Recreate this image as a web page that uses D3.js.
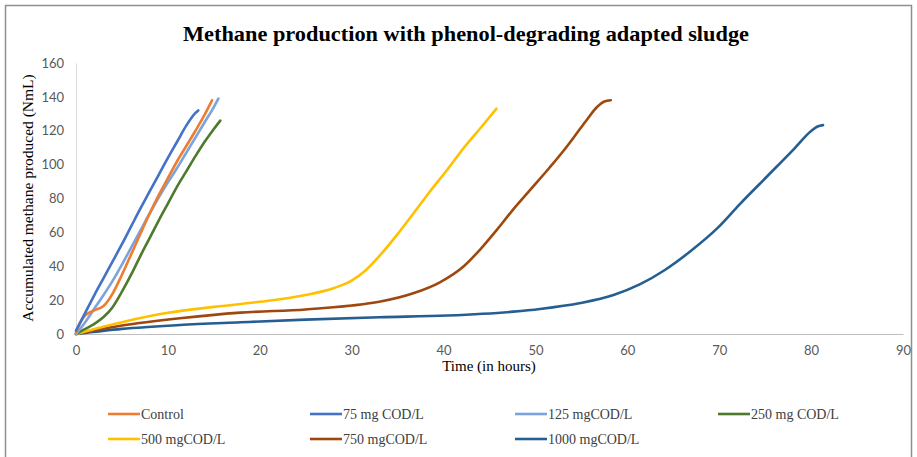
<!DOCTYPE html>
<html>
<head>
<meta charset="utf-8">
<script src="https://cdn.jsdelivr.net/npm/d3@7"></script>
<style>
  html, body { margin: 0; padding: 0; background: #fff; }
  svg { display: block; }
</style>
</head>
<body>
<svg id="chart" width="917" height="457"></svg>
<script>
// Accumulated methane (NmL) against time (h), one [hours, NmL] list per dose
const control = [[0,1],[0.5,7],[1,11],[2,14],[3,16.5],[4,24],[5,35],[6,47],[7,59],[8,71],[9,82],[10,92],[11,102],[12,111],[13,120],[14,129.5],[14.8,138]];
const cod75   = [[0,2],[1,12.5],[2,23],[3,33],[4,43],[5,53],[6,63.5],[7,74],[8,84],[9,94],[10,104],[11,113.5],[12,123],[13,130.5],[13.3,132]];
const cod125  = [[0,0],[1,7],[2,15],[3,23],[4,31.5],[5,41],[6,51],[7,61],[8,71],[9,80.5],[10,89.5],[11,98],[12,107],[13,116],[14,125],[15,134],[15.5,139]];
const cod250  = [[0,0],[1,3],[2,6],[3,10],[4,16],[5,25],[6,35],[7,46],[8,56.5],[9,67],[10,77],[11,87],[12,96],[13,105],[14,113.5],[15,121],[15.7,126]];
const cod500  = [[0,0],[2,3],[5,7],[10,12.5],[15,16],[20,19],[25,23],[28,27],[30,31.5],[31.5,37.5],[33,46],[35,59],[36.7,71],[38.5,84],[40.4,97],[42,108.5],[44,121.5],[45.75,133]];
const cod750  = [[0,0],[5,5],[11.3,9.3],[17.9,12.6],[25,14.5],[30,16.8],[33,19],[36.7,24],[39.6,30.5],[42.2,40],[44,50],[45.8,61.5],[47.5,73],[49.5,85.5],[51.5,98],[53.1,108.5],[54.5,118.5],[55.6,126.5],[56.7,134],[57.5,137.3],[58.2,138]];
const cod1000 = [[0,0],[5,3],[11.3,5.3],[17.9,6.9],[25,8.5],[33,9.9],[40.4,10.9],[47.6,13.2],[50.5,14.8],[54.9,18.3],[58.5,23],[61.4,29.4],[64,37.5],[66.9,49],[69.8,62.5],[72.3,77],[75.2,93],[78.1,109],[80,119.8],[80.7,122.5],[81.3,123.3]];

const seriesNames  = ["Control", "75 mg COD/L", "125 mgCOD/L", "250 mg COD/L", "500 mgCOD/L", "750 mgCOD/L", "1000 mgCOD/L"];
const seriesData   = [control, cod75, cod125, cod250, cod500, cod750, cod1000];
const seriesColors = ["#ED7D31", "#4472C4", "#7BA3DE", "#4E7A2C", "#FFC000", "#9E480E", "#255E91"];

const xTicks = [0, 10, 20, 30, 40, 50, 60, 70, 80, 90];
const yTicks = [0, 20, 40, 60, 80, 100, 120, 140, 160];

const svg = d3.select("#chart");
const plot = { left: 76, right: 903, top: 63, bottom: 334 };

const x = d3.scaleLinear().domain([0, 90]).range([plot.left, plot.right]);
const y = d3.scaleLinear().domain([0, 160]).range([plot.bottom, plot.top]);

const serif = "'Liberation Serif', 'Times New Roman', serif";

// outer frame
svg.append("rect")
  .attr("x", 5.5).attr("y", 5.5)
  .attr("width", 906).attr("height", 470)
  .attr("fill", "none").attr("stroke", "#8f8f8f").attr("stroke-width", 1.5);

// title
svg.append("text")
  .attr("x", 466).attr("y", 41)
  .attr("text-anchor", "middle")
  .attr("font-family", serif)
  .attr("font-weight", "bold")
  .attr("font-size", 22)
  .attr("textLength", 566)
  .attr("lengthAdjust", "spacingAndGlyphs")
  .attr("fill", "#000")
  .text("Methane production with phenol-degrading adapted sludge");

// axes
const tickFont = "Lato, 'Open Sans', sans-serif";
const xAxis = d3.axisBottom(x).tickValues(xTicks).tickSize(0).tickPadding(12).tickFormat(d3.format("d"));
const gx = svg.append("g").attr("transform", `translate(0,${plot.bottom})`).call(xAxis);
gx.select(".domain").attr("stroke", "#bfbfbf").attr("stroke-width", 1);
gx.selectAll("text").attr("font-family", tickFont).attr("font-size", 13).attr("fill", "#595959");

const yAxis = d3.axisLeft(y).tickValues(yTicks).tickSize(0).tickPadding(12).tickFormat(d3.format("d"));
const gy = svg.append("g").attr("transform", `translate(${plot.left},0)`).call(yAxis);
gy.select(".domain").attr("stroke", "#d9d9d9").attr("stroke-width", 1);
gy.selectAll("text").attr("font-family", tickFont).attr("font-size", 13).attr("fill", "#595959");

// axis titles
svg.append("text")
  .attr("x", 489).attr("y", 371)
  .attr("text-anchor", "middle")
  .attr("font-family", serif)
  .attr("font-size", 15)
  .attr("fill", "#000")
  .text("Time (in hours)");

svg.append("text")
  .attr("transform", "translate(33,198) rotate(-90)")
  .attr("text-anchor", "middle")
  .attr("font-family", serif)
  .attr("font-size", 15.5)
  .attr("fill", "#000")
  .text("Accumulated methane produced (NmL)");

// series lines
const line = d3.line()
  .x(d => x(d[0]))
  .y(d => y(d[1]))
  .curve(d3.curveMonotoneX);

const drawOrder = [6, 5, 4, 3, 2, 0, 1];
svg.append("g").selectAll("path")
  .data(drawOrder)
  .join("path")
  .attr("d", i => line(seriesData[i]))
  .attr("fill", "none")
  .attr("stroke", i => seriesColors[i])
  .attr("stroke-width", 2.6)
  .attr("stroke-linejoin", "round")
  .attr("stroke-linecap", "round");

// legend: two rows of four columns
const colX = [108, 310, 515, 718];
const rowY = [414, 439];
const legend = svg.append("g").selectAll("g")
  .data(seriesNames)
  .join("g")
  .attr("transform", (d, i) => `translate(${colX[i % 4]},${rowY[Math.floor(i / 4)]})`);

legend.append("line")
  .attr("x1", 0).attr("x2", 32)
  .attr("y1", 0).attr("y2", 0)
  .attr("stroke", (d, i) => seriesColors[i])
  .attr("stroke-width", 2.6);

legend.append("text")
  .attr("x", 33).attr("y", 5)
  .attr("font-family", serif)
  .attr("font-size", 14)
  .attr("fill", "#404040")
  .text(d => d);
</script>
</body>
</html>
